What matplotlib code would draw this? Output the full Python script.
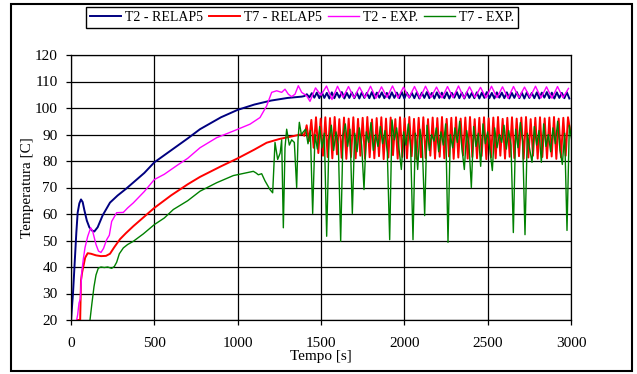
import numpy as np
import matplotlib
matplotlib.use("Agg")
import matplotlib.pyplot as plt
from matplotlib.patches import Rectangle

plt.rcParams['font.family'] = ['Liberation Serif', 'DejaVu Serif']

# T2 - RELAP5: warm-up then small oscillation
t2_relap_t = [0, 12, 24, 32, 40, 50, 60, 70, 80, 95, 110, 125, 140, 160, 190, 234, 280, 330, 374, 440,
              500, 600, 700, 774, 900, 1000, 1100, 1200, 1300, 1385]
t2_relap_v = [20, 30, 44, 53, 60.5, 64, 65.5, 64.5, 61.5, 57.5, 55, 53.8, 53.4, 55, 59.5, 64.3, 67, 69.5, 71.9, 75.5,
              79.5, 84, 88.5, 92, 96.5, 99.3, 101.3, 102.8, 103.8, 104.3]
T2_OSC_START, T2_OSC_STEP = 1400, 15
t2_relap_osc = [104.5, 105.2, 104.0, 105.6, 103.9, 105.8, 103.7, 105.9, 103.8, 105.7,
                103.6, 105.9, 103.7, 105.8, 103.9, 106.0, 103.6, 105.7, 103.8, 105.9,
                103.7, 105.8, 103.6, 105.9, 103.8, 105.7, 103.7, 106.0, 103.6, 105.8,
                103.9, 105.9, 103.7, 105.7, 103.6, 105.9, 103.8, 105.8, 103.7, 106.0,
                103.6, 105.8, 103.9, 105.7, 103.7, 105.9, 103.6, 105.8, 103.8, 106.0,
                103.7, 105.7, 103.6, 105.9, 103.8, 105.8, 103.7, 105.9, 103.6, 105.7,
                103.9, 106.0, 103.7, 105.8, 103.6, 105.9, 103.8, 105.7, 103.7, 105.9,
                103.6, 105.8, 103.8, 106.0, 103.7, 105.7, 103.6, 105.9, 103.9, 105.8,
                103.7, 105.9, 103.6, 105.7, 103.8, 106.0, 103.7, 105.8, 103.6, 105.9,
                103.8, 105.7, 103.7, 105.9, 103.6, 105.8, 103.9, 106.0, 103.7, 105.8,
                103.6, 105.9, 103.8, 105.7, 103.7, 105.9, 103.6]

# T7 - RELAP5
t7_relap_t = [40, 55, 60, 67, 74, 85, 100, 120, 150, 180, 210, 234, 260, 294, 330, 374, 440, 500, 600, 700,
              774, 900, 1000, 1100, 1174, 1250, 1334, 1390]
t7_relap_v = [20, 20, 35, 38, 40.2, 43.5, 45.2, 45, 44.4, 44.1, 44.2, 45, 47.5, 50.5, 52.8, 55.4, 59, 62.3, 67, 71.2,
              74, 78, 81, 84.3, 86.9, 88.3, 89.4, 90.2]
T7_OSC_START, T7_OSC_STEP = 1400, 14
t7_relap_osc = [89.5, 93.5, 87.5, 95.5, 85.0, 96.5, 83.0, 96.0, 82.0, 96.5,
                81.5, 96.2, 81.0, 96.6, 82.5, 95.8, 81.2, 96.4, 80.8, 96.0,
                81.5, 96.5, 81.0, 95.9, 82.0, 96.3, 80.9, 96.6, 81.4, 95.7,
                81.0, 96.2, 81.8, 96.5, 80.7, 96.0, 81.3, 96.4, 82.2, 95.8,
                80.9, 96.5, 81.5, 96.1, 81.0, 96.6, 81.8, 95.9, 80.8, 96.3,
                81.4, 96.5, 81.1, 95.8, 82.0, 96.4, 80.9, 96.2, 81.6, 96.6,
                81.0, 95.9, 81.7, 96.3, 80.8, 96.5, 81.3, 96.0, 82.1, 96.4,
                80.9, 96.6, 81.5, 95.8, 81.0, 96.3, 81.9, 96.5, 80.7, 96.1,
                81.4, 96.4, 81.0, 96.6, 82.0, 95.9, 80.9, 96.3, 81.6, 96.5,
                81.1, 96.0, 81.8, 96.4, 80.8, 96.6, 81.3, 95.8, 82.0, 96.3,
                80.9, 96.5, 81.5, 96.1, 81.0, 96.4, 81.7, 96.6, 80.8, 96.0,
                81.4, 96.3, 82.0, 96.5, 91.0]

# T2 - EXP.
t2_exp_t = [34, 40, 48, 56, 64, 74, 84, 100, 118, 130, 150, 165, 180, 195, 214, 230, 244, 274, 314, 340,
            374, 440, 500, 560, 640, 700, 774, 874, 974, 1074, 1134, 1174, 1204, 1234, 1264, 1284, 1304, 1324,
            1344, 1364, 1384, 1414]
t2_exp_v = [20, 22, 26.4, 28, 37.8, 43, 47.3, 51.5, 54.8, 53.5, 48.5, 46, 45.5, 47, 50.3, 52, 57.2, 60.5, 60.6, 62.3,
            64.2, 68.5, 73, 75, 78.5, 81, 85, 88.8, 91.3, 93.9, 96.4, 100.8, 105.9, 106.5, 105.9, 107.1, 105.2, 104.3,
            105.2, 108.4, 105.9, 104.6]
T2E_OSC_START, T2E_OSC_STEP = 1434, 33
t2_exp_osc = [102.5, 107.6, 104.8, 108.3, 103.2, 108.2, 104.0, 108.1, 103.8, 107.9,
              103.9, 108.2, 103.7, 108.0, 104.0, 108.3, 103.8, 107.9, 103.9, 108.1,
              103.7, 108.2, 104.0, 107.9, 103.8, 108.1, 103.9, 108.3, 103.7, 108.0,
              104.0, 107.8, 103.8, 108.2, 103.9, 108.0, 103.7, 108.1, 103.9, 107.9,
              104.0, 108.2, 103.8, 108.0, 103.7, 108.1, 103.9, 107.4]

# T7 - EXP.
t7_exp_t = [114, 125, 138, 150, 164, 180, 200, 220, 244, 260, 274, 290, 314, 340, 374, 434, 500, 560, 614, 700,
            774, 874, 974, 1074, 1094, 1110, 1124, 1144, 1164, 1194, 1210, 1224, 1240, 1255, 1264, 1274, 1284,
            1294, 1310, 1324, 1340, 1354, 1362, 1370, 1382, 1394]
t7_exp_v = [20, 26, 32.6, 37, 39.6, 40, 39.8, 40, 39.5, 40.2, 41.8, 45, 47.2, 48.5, 49.7, 52.5, 56, 58.5, 61.7, 65,
            68.6, 71.8, 74.5, 75.8, 76.1, 75.5, 74.8, 75.2, 72.5, 69.2, 68, 87, 80.6, 83, 88, 54.8, 85,
            92, 86, 88, 87, 70, 88, 94.6, 90, 91]
T7E_OSC_START, T7E_OSC_STEP = 1408, 14
t7_exp_osc = [92.0, 86.5, 91.5, 60.2, 90.0, 84.5, 93.0, 85.0, 90.5, 51.6,
              88.0, 93.5, 84.0, 91.0, 86.0, 49.7, 89.5, 94.0, 85.5, 92.0,
              60.2, 90.5, 83.5, 92.5, 86.0, 69.2, 91.0, 87.0, 94.5, 84.0,
              90.0, 85.5, 93.0, 86.5, 91.5, 83.0, 50.3, 95.5, 88.0, 92.5,
              84.5, 76.8, 91.0, 86.0, 94.0, 85.0, 50.3, 90.5, 76.8, 92.0,
              85.5, 59.4, 93.5, 84.0, 90.0, 87.5, 92.5, 83.5, 91.0, 86.0,
              94.0, 49.3, 90.0, 85.0, 92.5, 87.0, 95.0, 84.5, 76.8, 91.5,
              86.0, 70.0, 93.0, 85.5, 90.5, 78.0, 94.0, 86.5, 91.0, 84.0,
              76.4, 92.5, 85.0, 90.0, 87.0, 93.5, 84.5, 91.5, 86.0, 53.0,
              92.0, 85.0, 94.5, 87.5, 52.2, 90.5, 84.5, 79.5, 93.0, 86.0,
              91.5, 79.5, 94.0, 85.5, 90.0, 83.5, 92.5, 86.5, 95.0, 84.0,
              78.7, 90.5, 53.8, 93.5, 88.0]


def series(t_pre, v_pre, start, step, osc):
    t_osc = start + step * np.arange(len(osc))
    return np.concatenate([t_pre, t_osc]), np.concatenate([v_pre, osc])


fig = plt.figure(figsize=(6.37, 3.74), dpi=100)
ax = fig.add_axes([71 / 637, 1 - 320 / 374, 500 / 637, 265 / 374])

x, y = series(t2_relap_t, t2_relap_v, T2_OSC_START, T2_OSC_STEP, t2_relap_osc)
ax.plot(x, y, color='#000080', lw=1.4, label='T2 - RELAP5')
x, y = series(t7_relap_t, t7_relap_v, T7_OSC_START, T7_OSC_STEP, t7_relap_osc)
ax.plot(x, y, color='#ff0000', lw=1.4, label='T7 - RELAP5')
x, y = series(t2_exp_t, t2_exp_v, T2E_OSC_START, T2E_OSC_STEP, t2_exp_osc)
ax.plot(x, y, color='#ff00ff', lw=1.0, label='T2 - EXP.')
x, y = series(t7_exp_t, t7_exp_v, T7E_OSC_START, T7E_OSC_STEP, t7_exp_osc)
ax.plot(x, y, color='#008000', lw=1.0, label='T7 - EXP.')

ax.set_xlim(0, 3000)
ax.set_ylim(20, 120)
ax.set_xticks(range(0, 3001, 500))
ax.set_yticks(range(20, 121, 10))
ax.grid(True, color='black', lw=0.9)
ax.set_axisbelow(True)
for s in ax.spines.values():
    s.set_linewidth(0.9)
ax.tick_params(direction='out', length=3.6, width=0.9, labelsize=11)
ax.tick_params(axis='x', pad=8.5)
ax.tick_params(axis='y', pad=6)
ax.set_xlabel('Tempo [s]', fontsize=11, labelpad=0)
ax.set_ylabel('Temperatura [C]', fontsize=11, labelpad=0.5)

fig.legend(loc='upper left', bbox_to_anchor=(86 / 637, 1 - 7 / 374), ncol=4, fontsize=10,
           frameon=True, fancybox=False, edgecolor='black', framealpha=1, borderpad=0.3,
           handlelength=2.2, handletextpad=0.3, columnspacing=0.45, borderaxespad=0)

fig.patches.append(Rectangle((11 / 637, 1 - 371 / 374), 621 / 637, 367 / 374, transform=fig.transFigure,
                             fill=False, edgecolor='black', lw=1.5))

fig.savefig('out.png', dpi=100)
